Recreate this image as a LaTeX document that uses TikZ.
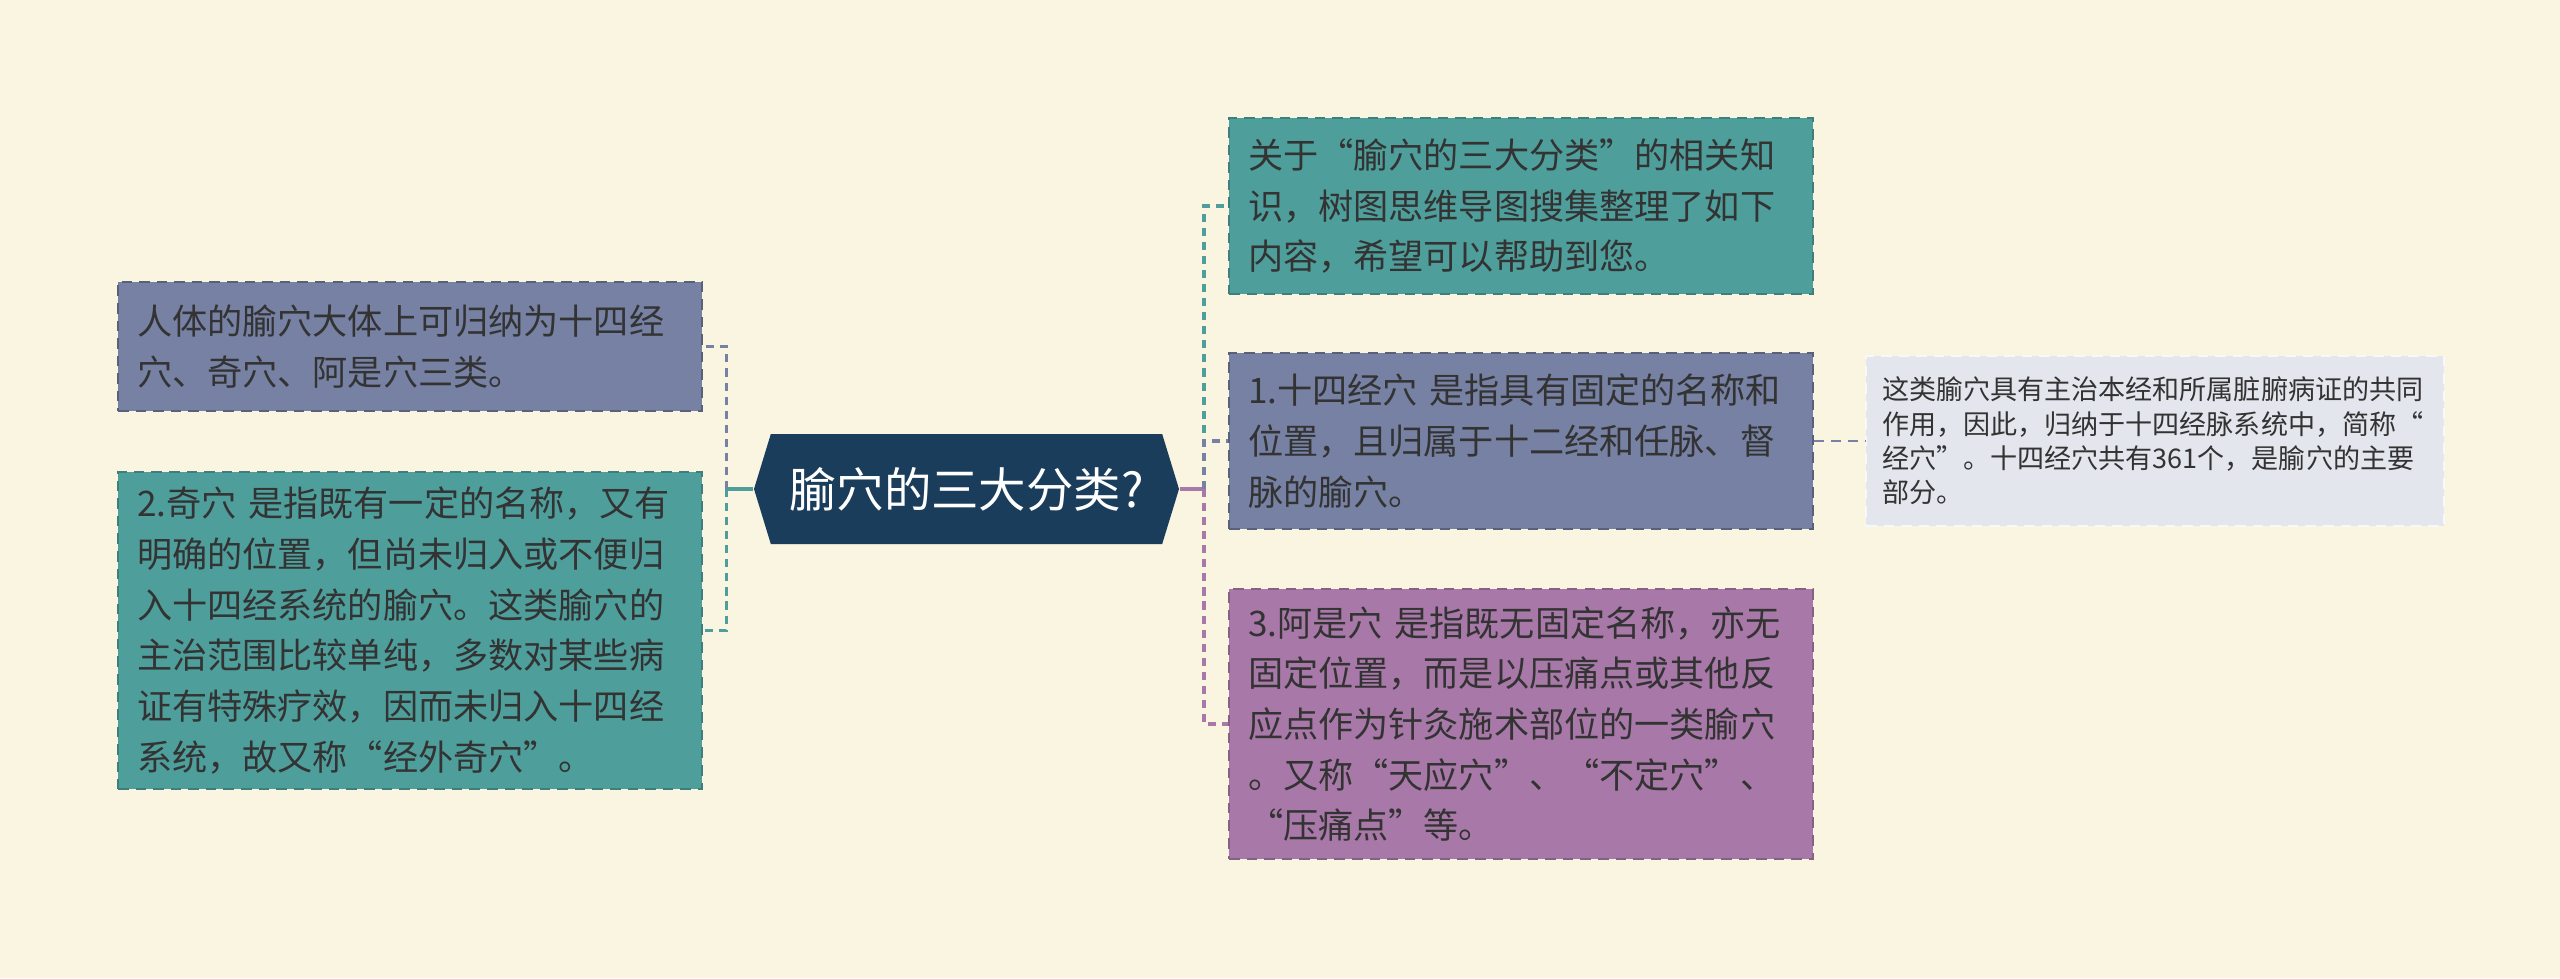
\documentclass[tikz,border=0pt]{standalone}
\usepackage{fontspec}
\setmainfont{Noto Sans CJK SC}
\usepackage{xcolor}
\definecolor{cbg}{RGB}{250,245,224}
\definecolor{cnavy}{RGB}{26,61,92}
\definecolor{cteal}{RGB}{78,158,155}
\definecolor{cgray}{RGB}{118,129,163}
\definecolor{cpurple}{RGB}{168,121,168}
\definecolor{clight}{RGB}{228,230,238}
\definecolor{ctext}{RGB}{51,51,51}
\usetikzlibrary{positioning, shapes.symbols}
\tikzstyle{Box} = [
draw,
line width=0.6pt,
dash pattern=on 3pt off 2pt,
text width=5.46cm,
inner xsep=0.19cm,
inner ysep=0pt,
align=left,
text=ctext,
font=\fontsize{10pt}{14.4pt}\selectfont]
\tikzstyle{BoxTeal} = [Box, fill=cteal, draw=cteal!80!black]
\tikzstyle{BoxGray} = [Box, fill=cgray, draw=cgray!75!black]
\tikzstyle{BoxPurple} = [Box, fill=cpurple, draw=cpurple!80!black]
\tikzstyle{BoxLight} = [Box, fill=clight, draw=white!70!clight,
text width=5.46cm, inner xsep=0.16cm,
font=\fontsize{7.7pt}{9.75pt}\selectfont]
\tikzstyle{Link} = [
line width=1pt,
dash pattern=on 2.3pt off 1.7pt]
\tikzstyle{LinkTeal} = [Link, cteal]
\tikzstyle{LinkGray} = [Link, cgray]
\tikzstyle{LinkPurple} = [Link, cpurple]

\begin{document}
\begin{tikzpicture}
    \fill[cbg] (0,0) rectangle (25.6,-9.78);
    \useasboundingbox (0,0) rectangle (25.6,-9.78);

    \node [shape=signal, signal to=west and east, signal pointer angle=146,
        fill=cnavy, text=white, minimum width=4.25cm, minimum height=1.10cm,
        font=\fontsize{13.5pt}{16pt}\selectfont] (1) at (9.665,-4.89) {腧穴的三大分类?};
    \node [BoxGray, minimum height=1.29cm] (2) at (4.10,-3.465)
        {人体的腧穴大体上可归纳为十四经\\穴、奇穴、阿是穴三类。};
    \node [BoxTeal, minimum height=3.17cm] (3) at (4.10,-6.305)
        {2.奇穴 是指既有一定的名称，又有\\明确的位置，但尚未归入或不便归\\入十四经系统的腧穴。这类腧穴的\\主治范围比较单纯，多数对某些病\\证有特殊疗效，因而未归入十四经\\系统，故又称“经外奇穴”。};
    \node [BoxTeal, minimum height=1.76cm] (4) at (15.21,-2.06)
        {关于“腧穴的三大分类”的相关知\\识，树图思维导图搜集整理了如下\\内容，希望可以帮助到您。};
    \node [BoxGray, minimum height=1.76cm] (5) at (15.21,-4.41)
        {1.十四经穴 是指具有固定的名称和\\位置，且归属于十二经和任脉、督\\脉的腧穴。};
    \node [BoxPurple, minimum height=2.70cm] (6) at (15.21,-7.24)
        {3.阿是穴 是指既无固定名称，亦无\\固定位置，而是以压痛点或其他反\\应点作为针灸施术部位的一类腧穴\\。又称“天应穴”、“不定穴”、\\“压痛点”等。};
    \node [BoxLight, minimum height=1.70cm, right=0.51cm of 5] (7)
        {这类腧穴具有主治本经和所属脏腑病证的共同\\作用，因此，归纳于十四经脉系统中，简称“\\经穴”。十四经穴共有361个，是腧穴的主要\\部分。};

    \draw[cteal, line width=1pt] (1.west) -- ++(-0.27,0) coordinate (8);
    \draw[cpurple, line width=1pt] (1.east) -- ++(0.24,0) coordinate (9);
    \draw[LinkGray] (8) |- (2.east);
    \draw[LinkTeal] (8) |- (3.east);
    \draw[LinkTeal] (9) |- (4.west);
    \draw[LinkGray] (9) |- (5.west);
    \draw[LinkPurple] (9) |- (6.west);
    \draw[LinkGray, line width=0.6pt, dash pattern=on 2.8pt off 2pt] (5.east) -- (7.west);
\end{tikzpicture}
\end{document}
